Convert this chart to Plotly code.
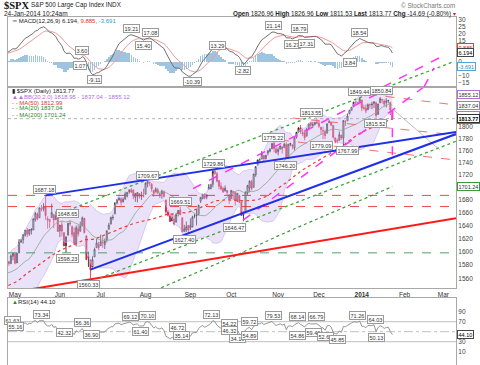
import math
import pandas as pd
import plotly.graph_objects as go

FONT = "Liberation Sans"

# ---------------- data ----------------
# closes Feb 1 - Apr 25 2013 (indicator warm-up only, not drawn as bars)
prior_closes = [
    1513.17, 1495.71, 1511.29, 1512.12, 1509.39, 1517.93, 1517.01, 1519.43, 1520.33, 1521.38,
    1519.79, 1530.94, 1511.95, 1502.42, 1515.60, 1487.85, 1496.94, 1515.99, 1514.68,
    1518.20, 1525.20, 1539.79, 1541.46, 1544.26, 1551.18, 1556.22, 1552.48, 1554.52, 1563.23,
    1560.70, 1552.10, 1548.34, 1558.71, 1545.80, 1556.89, 1551.69, 1563.77, 1562.85, 1569.19,
    1562.17, 1570.25, 1553.69, 1559.98, 1553.28, 1563.07, 1568.61, 1587.73, 1593.37, 1588.85,
    1552.36, 1574.57, 1552.01, 1541.61, 1555.25, 1562.50, 1578.78, 1578.79, 1585.16,
]

# daily bars Apr 26 2013 - Jan 24 2014 (trading-day index: May 1 2013 = 0)
first_idx = -3
opens = [
    1585, 1582, 1593,
    1597, 1583, 1598, 1614, 1618, 1625, 1633, 1627, 1632, 1633, 1649, 1658, 1652, 1665, 1666, 1669, 1648, 1646, 1652, 1657, 1649, 1652,
    1632, 1641, 1629, 1609, 1625, 1644, 1638, 1629, 1612, 1635, 1631, 1640, 1651, 1624, 1591, 1588, 1577, 1592, 1606, 1611,
    1609, 1614, 1611, 1618, 1634, 1642, 1652, 1658, 1675, 1680, 1682, 1677, 1681, 1686, 1693, 1696, 1696, 1684, 1687, 1690, 1687, 1687,
    1689, 1706, 1708, 1705, 1695, 1693, 1696, 1688, 1690, 1693, 1680, 1661, 1655, 1647, 1650, 1645, 1659, 1664, 1652, 1631, 1633, 1640,
    1636, 1638, 1654, 1657, 1657, 1678, 1682, 1689, 1685, 1700, 1698, 1705, 1726, 1722, 1711, 1702, 1698, 1694, 1695, 1688,
    1682, 1691, 1692, 1678, 1687, 1677, 1657, 1660, 1691, 1699, 1709, 1700, 1720, 1737, 1745, 1746, 1752, 1747, 1756, 1759, 1763, 1772, 1763,
    1758, 1763, 1766, 1765, 1770, 1748, 1770, 1769, 1764, 1782, 1791, 1798, 1790, 1790, 1784, 1797, 1807, 1803, 1804, 1808,
    1806, 1799, 1793, 1792, 1789, 1807, 1807, 1802, 1781, 1777, 1777, 1786, 1781, 1809, 1810, 1822, 1828, 1834, 1843, 1841, 1842,
    1846, 1833, 1832, 1829, 1838, 1839, 1840, 1841, 1821, 1841, 1847, 1844, 1842, 1845, 1842, 1826.96,
]
highs = [
    1586, 1596, 1598,
    1597, 1598, 1619, 1619, 1626, 1633, 1636, 1634, 1636, 1651, 1661, 1660, 1668, 1672, 1675, 1687.18, 1654, 1649.8, 1674, 1657, 1662, 1658,
    1641, 1647, 1629, 1622.6, 1644, 1648.7, 1640, 1637, 1640, 1641, 1646, 1654, 1652, 1624, 1600, 1588, 1593, 1606, 1620, 1615,
    1626, 1624, 1620, 1632, 1644, 1654, 1657, 1676, 1680, 1685, 1684, 1684, 1693, 1692, 1697, 1698.8, 1696, 1690, 1691.8, 1690, 1693, 1698,
    1707.9, 1709.67, 1709, 1707, 1696, 1700, 1699, 1691, 1696, 1695, 1680, 1664, 1659, 1659, 1656, 1659, 1664, 1669.51, 1652, 1641, 1646, 1641,
    1651, 1655, 1658, 1665, 1672, 1684, 1689, 1690, 1689, 1705, 1705, 1729, 1729.86, 1725, 1711, 1708, 1701, 1703, 1695, 1688,
    1696, 1693, 1692, 1691, 1688, 1677, 1662, 1692.6, 1703.4, 1711, 1712, 1721.8, 1734, 1745, 1747, 1759, 1752, 1753, 1759.8, 1764, 1772, 1775.22, 1768,
    1765, 1768, 1767, 1773, 1774, 1771, 1773, 1771, 1782, 1791, 1798, 1803, 1796, 1795, 1798, 1805, 1808, 1808, 1808.4, 1813.55,
    1810, 1800, 1800, 1795, 1805, 1811.5, 1808, 1803, 1782, 1780, 1792, 1786, 1811, 1810, 1823, 1829, 1833.3, 1842.8, 1844.9, 1842.5, 1849.44,
    1846, 1838, 1838, 1840, 1840, 1843, 1844, 1843, 1839.3, 1850.84, 1847, 1847, 1849, 1846, 1842, 1826.96,
]
lows = [
    1579, 1582, 1587,
    1581, 1583, 1598, 1614, 1612, 1623, 1622, 1624, 1626, 1633, 1646, 1648, 1652, 1662, 1662, 1649, 1635, 1636, 1652, 1636, 1649, 1630,
    1622, 1623, 1608, 1598.23, 1625, 1639, 1622, 1610, 1608, 1623, 1631, 1639, 1628, 1587, 1577, 1560.33, 1577, 1592, 1606, 1602,
    1609, 1606, 1604, 1614, 1634, 1642, 1648, 1658, 1673, 1679, 1671, 1676, 1681, 1684, 1690, 1691, 1681, 1677, 1676, 1682, 1680, 1684,
    1689, 1700, 1702, 1693, 1685, 1693, 1689, 1683, 1682, 1684, 1658, 1654, 1646, 1647, 1640, 1645, 1654, 1656, 1629, 1630, 1630, 1627.47,
    1633, 1637, 1651, 1640, 1657, 1675, 1681, 1681, 1681, 1696, 1697, 1700, 1720, 1708, 1697, 1695, 1691, 1694, 1687, 1674,
    1682, 1680, 1671, 1677, 1675, 1655, 1646.47, 1660, 1688, 1692, 1695, 1700, 1717, 1735, 1740, 1746, 1740, 1745, 1752, 1757, 1763, 1757, 1755,
    1752, 1761, 1755, 1765, 1746.2, 1746, 1767, 1762, 1760, 1780, 1790, 1788, 1784, 1777, 1784, 1794, 1800, 1800, 1802, 1805,
    1798, 1787, 1779, 1779.09, 1789, 1806, 1801, 1780, 1772, 1772, 1777, 1778, 1767.99, 1801, 1810, 1822, 1828, 1834, 1839, 1838, 1842,
    1827, 1829, 1823, 1829, 1831, 1830, 1832, 1815.52, 1821, 1841, 1840, 1835, 1833, 1840, 1820, 1811.53,
]
closes = [
    1582.2, 1593.6, 1597.6,
    1582.7, 1597.6, 1614.4, 1617.5, 1626.0, 1632.7, 1626.7, 1633.7, 1633.8, 1650.3, 1658.8, 1650.5, 1667.5, 1666.3, 1669.2, 1655.4, 1650.5, 1649.6, 1660.1, 1648.4, 1654.4, 1630.7,
    1640.4, 1631.4, 1608.9, 1622.6, 1643.4, 1642.8, 1626.1, 1612.5, 1636.4, 1626.7, 1639.0, 1651.8, 1628.9, 1588.2, 1592.4, 1573.1, 1588.0, 1603.3, 1613.2, 1606.3,
    1615.0, 1614.1, 1615.4, 1631.9, 1640.5, 1652.3, 1652.6, 1675.0, 1680.2, 1682.5, 1676.3, 1680.9, 1689.4, 1692.1, 1695.5, 1692.4, 1685.9, 1690.3, 1691.7, 1685.3, 1686.0, 1685.7,
    1706.9, 1709.7, 1707.1, 1697.4, 1690.9, 1697.5, 1691.4, 1689.5, 1694.2, 1685.4, 1661.3, 1655.8, 1646.1, 1652.4, 1642.8, 1657.0, 1663.5, 1656.8, 1630.5, 1635.0, 1638.2, 1633.0,
    1639.8, 1653.1, 1655.1, 1655.2, 1671.7, 1684.0, 1689.1, 1683.4, 1688.0, 1697.6, 1704.8, 1725.5, 1722.3, 1709.9, 1701.8, 1697.4, 1692.8, 1698.7, 1691.8, 1681.6,
    1695.0, 1693.9, 1678.7, 1690.5, 1676.1, 1655.5, 1656.4, 1692.6, 1703.2, 1710.1, 1698.1, 1721.5, 1733.2, 1744.5, 1744.7, 1754.7, 1746.4, 1752.1, 1759.8, 1762.1, 1772.0, 1763.3, 1756.5,
    1761.6, 1767.9, 1763.0, 1770.5, 1747.2, 1770.6, 1771.9, 1767.7, 1782.0, 1790.6, 1798.2, 1791.5, 1787.9, 1781.4, 1795.9, 1804.8, 1802.5, 1802.8, 1807.2, 1805.8,
    1800.9, 1795.2, 1792.8, 1785.0, 1805.1, 1808.4, 1802.6, 1782.2, 1775.5, 1775.3, 1786.5, 1781.0, 1810.7, 1809.6, 1818.3, 1828.0, 1833.3, 1842.0, 1841.4, 1841.1, 1848.4,
    1832.0, 1831.4, 1826.8, 1837.9, 1837.5, 1838.1, 1842.4, 1819.2, 1838.9, 1848.4, 1845.9, 1838.7, 1843.8, 1844.9, 1828.5, 1813.77,
]
assert len(opens) == len(highs) == len(lows) == len(closes)

# MA(200) (sparse points)
ma200_idx = [69, 86, 106, 129, 149, 170, 185]
ma200_val = [1543, 1564.5, 1591, 1624, 1651, 1681, 1701.24]

# month axis labels (trading-day index of first session of each month)
month_idx = [0, 22, 42, 64, 86, 106, 129, 149, 170, 191, 210]
month_labels = ["May", "Jun", "Jul", "Aug", "Sep", "Oct", "Nov", "Dec", "<b>2014</b>", "Feb", "Mar"]

price_ticks = [1560, 1580, 1600, 1620, 1640, 1660, 1680, 1720, 1740, 1760, 1780, 1800]
macd_ticks = [30, 25, 20, 15, 10, 0, -10, -15]
rsi_ticks = [90, 70, 30, 10]

# drawn trendlines (trading-day index, price)
blue_upper = ([15, 216.2], [1687.18, 1791.0])
blue_lower = ([37, 216.2], [1573.1, 1787.6])
red_long = ([-3.43, 216.2], [1538.7, 1651.4])
green_chan_up = ([20.6, 216.2], [1657, 1916])
green_chan_lo = ([41.7, 216.2], [1561, 1775.4])
magenta_1 = ([87.3, 216.2], [1698, 1928.9])
magenta_2 = ([111.8, 216.2], [1648.3, 1911])
magenta_v = ([185, 185], [1828, 1747])
red_fan_1 = ([164.2, 216.2], [1859.9, 1837.2])
red_fan_2 = ([136.3, 216.2], [1814.8, 1786])
red_fan_3 = ([129.9, 216.2], [1777.6, 1744.3])
gray_line = ([183.8, 208.3], [1834.3, 1760.9])
red_levels = [1687.18, 1669.51]
green_level = 1598.23
last_price = 1813.77
# parts of the drawn lines that run on into the MACD pane (index, MACD-scale value)
magenta_1_macd = ([180.4, 208.3], [-18.1, 3.0])
magenta_2_macd = ([200.5, 205.4], [-18.1, -4.5])
green_up_macd = ([182.4, 214.7], [-18.1, -0.2])

# price labels
main_lbl_text = ["1687.18", "1648.65", "1598.23", "1560.33", "1709.67", "1729.86", "1669.51", "1627.40", "1646.47",
                 "1775.22", "1746.20", "1813.55", "1779.09", "1767.99", "1849.44", "1850.84", "1815.52"]
main_lbl_idx = [14.7, 25.5, 25.5, 35.8, 65.2, 97.5, 80.9, 83.3, 107.8, 126.5, 132.4, 145.6, 150.5, 163.2, 169.1, 179.9, 176.5]
main_lbl_price = [1697.0, 1659.3, 1590.3, 1551.8, 1719.8, 1739.4, 1678.2, 1619.1, 1637.5, 1782.6, 1736.1, 1825.1,
                  1769.2, 1760.9, 1860.8, 1861.7, 1805.8]

macd_lbl_text = ["3.60", "1.07", "-9.11", "19.21", "17.08", "15.40", "-10.39", "13.29", "-2.82", "21.14", "18.79",
                 "16.27", "17.31", "3.84", "18.54"]
macd_lbl_idx = [32.8, 31.9, 39.2, 56.9, 66.2, 63.2, 86.8, 99.5, 111.8, 126.5, 139.7, 135.8, 143.1, 164.2, 169.1]
macd_lbl_val = [7.9, -2.4, -12.7, 23.4, 21.0, 11.4, -14.3, 11.9, -6.4, 25.7, 23.4, 12.6, 13.1, -0.4, 21.0]

rsi_lbl_text = ["61.63", "55.16", "73.34", "42.32", "56.36", "36.90", "69.12", "70.10", "61.40", "46.72", "35.14",
                "72.13", "54.22", "46.32", "34.19", "59.72", "54.89", "79.53", "54.86", "68.14", "59.40", "66.79",
                "52.67", "45.85", "71.26", "64.03", "50.13"]
rsi_lbl_idx = [-1.0, 0.0, 13.1, 24.5, 33.2, 37.6, 56.4, 65.2, 61.3, 79.9, 81.7, 96.4, 105.4, 105.4, 109.3, 115.2,
               115.2, 126.5, 138.7, 138.7, 146.1, 147.9, 152.0, 158.3, 168.1, 176.5, 177.3]
rsi_lbl_val = [73.4, 61.4, 85.4, 48.0, 68.0, 44.8, 81.4, 83.4, 50.0, 58.0, 43.4, 84.8, 66.8, 53.4, 37.0, 71.4,
               43.4, 83.4, 43.4, 81.4, 48.0, 80.0, 40.0, 34.8, 82.0, 74.8, 38.8]

X_RANGE = [-3.43, 216.2]
PRICE_RANGE = [1546.1, 1868.7]
MACD_RANGE = [-18.1, 31.9]
RSI_RANGE = [-16.6, 117.4]

# ---------------- indicators ----------------
n_prior = len(prior_closes)
s = pd.Series(prior_closes + closes, dtype=float)
all_x = list(range(first_idx - n_prior, first_idx + len(closes)))
ma20 = s.rolling(20).mean()
sd20 = s.rolling(20).std(ddof=0)
bb_up = ma20 + 2 * sd20
bb_lo = ma20 - 2 * sd20
ma50 = s.rolling(50).mean()
macd = s.ewm(span=12, adjust=False).mean() - s.ewm(span=26, adjust=False).mean()
sig = macd.ewm(span=9, adjust=False).mean()
hist = macd - sig
d = s.diff()
ag = d.clip(lower=0).ewm(alpha=1 / 14, adjust=False).mean()
al = (-d).clip(lower=0).ewm(alpha=1 / 14, adjust=False).mean()
rsi = 100 - 100 / (1 + ag / al)

st = n_prior - 3
vx = all_x[st:]


def v(ser):
    return list(ser.iloc[st:])


# ---------------- figure ----------------
fig = go.Figure()
XA = dict(main=("x", "y"), macd=("x2", "y2"), rsi=("x3", "y3"))


def line(xs, ys, color, width, dash="solid", panel="main"):
    xa, ya = XA[panel]
    fig.add_trace(go.Scatter(x=xs, y=ys, mode="lines", xaxis=xa, yaxis=ya, hoverinfo="skip",
                             line=dict(color=color, width=width, dash=dash)))


# Bollinger band
line(vx, v(bb_lo), "#c7aee6", 0.6)
fig.add_trace(go.Scatter(x=vx, y=v(bb_up), mode="lines", fill="tonexty", fillcolor="rgba(205,185,238,0.42)",
                         line=dict(color="#c7aee6", width=0.6), hoverinfo="skip"))
line(vx, v(ma20), "#8da58d", 0.8)
line(vx, v(ma50), "#e8403a", 1.2, "dot")
line(ma200_idx, ma200_val, "#3a9a3a", 1.2, "dot")

# horizontal levels
for lv in red_levels:
    line(X_RANGE, [lv, lv], "#ee3333", 0.9, "dash")
line(X_RANGE, [green_level, green_level], "#3a9a5a", 0.9, "dash")
line(X_RANGE, [last_price, last_price], "#a0a0a0", 0.8, "dot")

# trendlines
line(*red_long, "#ff1a1a", 2)
line(*green_chan_up, "#3aa83a", 1.3, "dot")
line(*green_chan_lo, "#3aa83a", 1.3, "dot")
line(*red_fan_1, "#f06060", 0.9, "dash")
line(*red_fan_2, "#f06060", 0.9, "dash")
line(*red_fan_3, "#f06060", 0.9, "dash")
line(*gray_line, "#aaaaaa", 0.8)
line(*magenta_1, "#ff33ff", 1.5, "dash")
line(*magenta_2, "#ff33ff", 1.5, "dash")
line(*magenta_v, "#ff33ff", 1.5, "dash")
line(*blue_upper, "#1f2fe8", 2)
line(*blue_lower, "#1f2fe8", 2)

# candles: black if close >= prev close, red otherwise; hollow when close > open
xd = list(range(first_idx, first_idx + len(closes)))
prev = [prior_closes[-1]] + closes[:-1]
RED = "#d81b3c"
for col, pick in (("#111111", lambda i: closes[i] >= prev[i]), (RED, lambda i: closes[i] < prev[i])):
    ids = [i for i in range(len(closes)) if pick(i)]
    fig.add_trace(go.Candlestick(
        x=[xd[i] for i in ids], open=[opens[i] for i in ids], high=[highs[i] for i in ids],
        low=[lows[i] for i in ids], close=[closes[i] for i in ids], hoverinfo="skip",
        increasing=dict(line=dict(color=col, width=0.8), fillcolor="white"),
        decreasing=dict(line=dict(color=col, width=0.8), fillcolor=col),
        whiskerwidth=0, xaxis="x", yaxis="y"))

# MACD
fig.add_trace(go.Bar(x=vx, y=v(hist), xaxis="x2", yaxis="y2", marker=dict(color="#9fc4e0", line=dict(width=0)),
                     width=0.75, hoverinfo="skip"))
line(vx, v(sig), "#f29a9a", 1.0, panel="macd")
line(vx, v(macd), "#707070", 1.0, panel="macd")
line(*green_up_macd, "#3aa83a", 1.3, "dot", panel="macd")
line(*magenta_1_macd, "#ff33ff", 1.5, "dash", panel="macd")
line(*magenta_2_macd, "#ff33ff", 1.5, "dash", panel="macd")

# RSI
for lv, dsh in ((70, "solid"), (30, "solid"), (50, "dashdot")):
    line(X_RANGE, [lv, lv], "#b0b0b0", 0.8, dsh, panel="rsi")
line(vx, v(rsi), "#8a8a8a", 0.9, panel="rsi")

# ---------------- layout ----------------
W, H = 480, 365
xl, xr = 8 / W, 456 / W


def py(p):
    return 1 - p / H


ax_common = dict(showgrid=False, zeroline=False, showline=True, mirror=True, linecolor="#a8a8a8", linewidth=1,
                 range=X_RANGE, autorange=False, domain=[xl, xr], fixedrange=True,
                 rangeslider=dict(visible=False))
yfont = dict(family=FONT, size=6.5, color="#444")
ycommon = dict(side="right", tickmode="array", tickfont=yfont, showgrid=False, zeroline=False, showline=True,
               mirror=True, linecolor="#a8a8a8", ticks="", autorange=False, fixedrange=True, automargin=False)

fig.update_layout(
    width=W, height=H, margin=dict(l=0, r=0, t=0, b=0, autoexpand=False), paper_bgcolor="white",
    plot_bgcolor="white", showlegend=False, hovermode=False, bargap=0,
    xaxis=dict(**ax_common, anchor="y", tickmode="array", tickvals=month_idx, ticktext=month_labels,
               tickfont=dict(family=FONT, size=6.5, color="#333"), ticks=""),
    yaxis=dict(**ycommon, type="log", range=[math.log10(PRICE_RANGE[0]), math.log10(PRICE_RANGE[1])],
               domain=[py(288), py(87)], anchor="x", tickvals=price_ticks,
               ticktext=[str(t) for t in price_ticks]),
    xaxis2=dict(**ax_common, anchor="y2", showticklabels=False, ticks=""),
    yaxis2=dict(**ycommon, range=MACD_RANGE, domain=[py(87), py(17)], anchor="x2", tickvals=macd_ticks),
    xaxis3=dict(**ax_common, anchor="y3", showticklabels=False, ticks=""),
    yaxis3=dict(**ycommon, range=RSI_RANGE, domain=[0, py(298)], anchor="x3", tickvals=rsi_ticks),
)

ann = []


def box(text, x, y, xref, yref, color="#333", border="#9a9a9a", size=5.5, xanchor="center"):
    ann.append(dict(text=text, x=x, y=y, xref=xref, yref=yref, showarrow=False, xanchor=xanchor,
                    font=dict(family=FONT, size=size, color=color), bgcolor="white", bordercolor=border,
                    borderwidth=1, borderpad=0.5))


for t, xi, p in zip(main_lbl_text, main_lbl_idx, main_lbl_price):
    box(t, xi, math.log10(p), "x", "y")
for t, xi, p in zip(macd_lbl_text, macd_lbl_idx, macd_lbl_val):
    box(t, xi, p, "x2", "y2")
for t, xi, p in zip(rsi_lbl_text, rsi_lbl_idx, rsi_lbl_val):
    box(t, xi, p, "x3", "y3")

# right-axis value boxes
RX = 456.5 / W
RS = 5.5
box("1855.12", RX, math.log10(1855.12), "paper", "y", "#333", "#b070d8", RS, "left")
box("1837.04", RX, math.log10(1837.04), "paper", "y", "#333", "#b070d8", RS, "left")
box("1818.95", RX, math.log10(1818.95), "paper", "y", "#333", "#b070d8", RS, "left")
box("1812.99", RX, math.log10(1812.99), "paper", "y", "#333", "#e04040", RS, "left")
box("<b>1813.77</b>", RX, math.log10(1813.77), "paper", "y", "#000", "#333", RS, "left")
box("1701.24", RX, math.log10(1701.24), "paper", "y", "#333", "#3a9a3a", RS, "left")
box("9.885", RX, 9.885, "paper", "y2", "#d03030", "#e04040", RS, "left")
box("6.194", RX, 6.194, "paper", "y2", "#000", "#444", RS, "left")
box("-3.691", RX, -3.691, "paper", "y2", "#3388bb", "#55a0d0", RS, "left")
box("44.10", RX, 44.10, "paper", "y3", "#000", "#444", RS, "left")


def txt(text, xpx, ypx, size=6.5, color="#222", xanchor="left", family=FONT):
    ann.append(dict(text=text, x=xpx / W, y=py(ypx), xref="paper", yref="paper", showarrow=False,
                    xanchor=xanchor, yanchor="middle", font=dict(family=family, size=size, color=color)))


txt("<b>$SPX</b>", 2, 5.5, 10.5, "#111", family="Liberation Serif")
txt("S&P 500 Large Cap Index INDX", 29, 5.5, 6.3, "#222")
txt("24-Jan-2014 10:24am", 2, 13.5, 6.5, "#222")
txt("© StockCharts.com", 457, 5.5, 6.3, "#777", "right")
txt("<b>Open</b> 1826.96 <b>High</b> 1826.96 <b>Low</b> 1811.53 <b>Last</b> 1813.77 <b>Chg</b> -14.69 (-0.80%) "
    "<span style='color:#d81b3c'>▾</span>", 458, 13.5, 6.3, "#222", "right")
txt("<span style='color:#666'>━</span> MACD(12,26,9) 6.194, <span style='color:#e03030'>9.885</span>, "
    "<span style='color:#3399cc'>-3.691</span>", 10, 21, 6, "#222")
txt("<span style='color:#222'>▮</span> $SPX (Daily) 1813.77", 10, 90.5, 6, "#222")
txt("<span style='color:#b070d8'>▲▲BB(20,2.0) 1818.95 - 1837.04 - 1855.12</span>", 10, 96.5, 6)
txt("<span style='color:#e03030'>- - MA(50) 1812.99</span>", 10, 102.5, 6)
txt("<span style='color:#2a8a2a'>- - MA(20) 1837.04</span>", 10, 108.5, 6)
txt("<span style='color:#2a8a2a'>- - MA(200) 1701.24</span>", 10, 114.5, 6)
txt("<span style='color:#2a8a2a'>▲</span>RSI(14) 44.10", 10, 301.5, 6, "#222")

fig.update_layout(annotations=ann)
fig.write_html("out.html", config={"displayModeBar": False, "staticPlot": True},
               post_script="document.body.style.margin='0';document.body.style.overflow='hidden';")
